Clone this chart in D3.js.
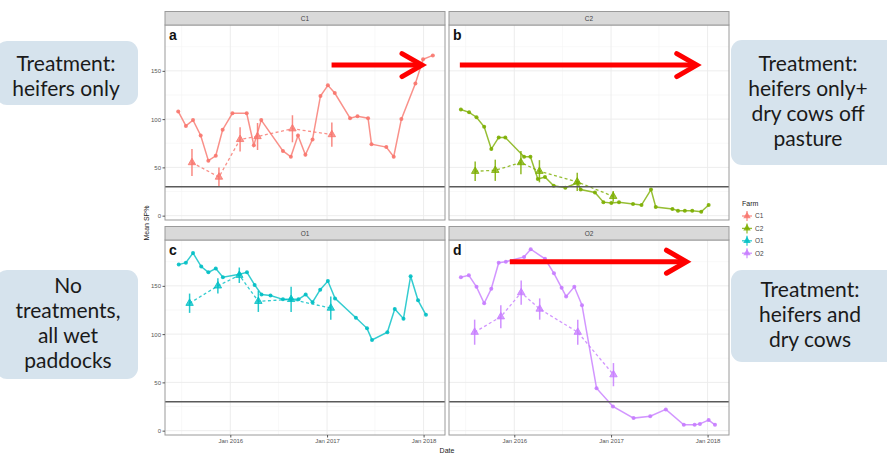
<!DOCTYPE html>
<html>
<head>
<meta charset="utf-8">
<script src="https://cdn.jsdelivr.net/npm/d3@7"></script>
<style>
  body { margin: 0; background: #fff; }
  svg { display: block; font-family: "Liberation Sans", Arial, sans-serif; }
</style>
</head>
<body>
<div id="chart"></div>
<script>
// farms / panels
const farms = ["C1", "C2", "O1", "O2"];
const panelLetters = ["a", "b", "c", "d"];
const farmColors = ["#F8766D", "#7CAE00", "#00BFC4", "#C77CFF"];

// monthly bulk samples (solid line)
const c1Dates = ["2015-06-18","2015-07-17","2015-08-13","2015-09-11","2015-10-10","2015-11-07","2015-12-03","2016-01-09","2016-03-03","2016-03-30","2016-04-27","2016-07-18","2016-08-17","2016-09-13","2016-10-11","2016-11-07","2016-12-07","2017-01-04","2017-01-30","2017-03-29","2017-04-26","2017-06-05","2017-06-18","2017-08-13","2017-09-10","2017-10-09","2017-12-01","2017-12-30","2018-02-05"];
const c1Sp = [108,93,99,83,57,62,89,106,106,73,99,67,61,83,63,79,124,135,127,101,103,101,74,71,61,100,137,162,166];

const c2Dates = ["2015-06-13","2015-07-14","2015-08-11","2015-09-09","2015-10-06","2015-11-03","2015-11-28","2016-02-07","2016-03-02","2016-03-30","2016-04-26","2016-05-29","2016-07-12","2016-08-28","2016-09-08","2016-11-01","2016-12-03","2017-01-02","2017-01-31","2017-03-25","2017-04-26","2017-06-01","2017-06-19","2017-08-21","2017-09-11","2017-10-07","2017-11-04","2017-12-08","2018-01-05"];
const c2Sp = [110,107,102,92,69,81,81,61,61,38,40,31,29,34,27,24,14,13,14,12,11,27,9,7,5,5,5,4,11];

const o1Dates = ["2015-06-20","2015-07-17","2015-08-13","2015-09-13","2015-10-10","2015-11-07","2015-12-04","2016-02-05","2016-03-04","2016-04-02","2016-04-28","2016-06-01","2016-07-18","2016-08-17","2016-09-15","2016-10-12","2016-11-07","2016-12-06","2017-01-04","2017-01-31","2017-04-20","2017-06-01","2017-06-20","2017-08-17","2017-09-14","2017-10-17","2017-11-13","2017-12-11","2018-01-10"];
const o1Sp = [172,174,184,170,164,168,159,162,164,151,141,140,136,136,136,141,133,146,155,137,117,106,94,102,126,116,160,135,120];

const o2Dates = ["2015-06-13","2015-07-13","2015-08-11","2015-09-09","2015-10-06","2015-11-03","2015-11-30","2016-02-07","2016-03-03","2016-04-26","2016-05-30","2016-06-28","2016-07-15","2016-08-15","2016-09-13","2016-11-07","2017-01-08","2017-03-27","2017-05-29","2017-07-27","2017-10-03","2017-11-13","2017-12-03","2018-01-05","2018-01-29"];
const o2Sp = [159,161,149,132,147,174,175,180,188,178,163,148,139,149,130,44,25,13,15,22,6,6,7,11,6];

// survey means (dashed line, triangles, error bars)
const c1SurveyDates = ["2015-08-09","2015-11-19","2016-02-07","2016-04-13","2016-08-23","2017-01-19"];
const c1SurveyMean = [55,40,79,82,90,84];
const c1SurveyErr = [14,10,12.5,14,14,12.5];

const c2SurveyDates = ["2015-08-06","2015-10-21","2016-01-26","2016-04-05","2016-08-26","2017-01-09"];
const c2SurveyMean = [46,47,55,46,35,20];
const c2SurveyErr = [10,11,12,11.5,9.5,5.5];

const o1SurveyDates = ["2015-07-31","2015-11-15","2016-02-04","2016-04-16","2016-08-18","2017-01-15"];
const o1SurveyMean = [132,150,161,134,136,127];
const o1SurveyErr = [10,8,8,11,13,12];

const o2SurveyDates = ["2015-08-04","2015-11-11","2016-01-27","2016-04-06","2016-08-28","2017-01-10"];
const o2SurveyMean = [102,118,143,126,102,58];
const o2SurveyErr = [13,12,12.5,11,13,12];

// axis ticks
const yTicks = [0, 50, 100, 150];
const yMinorTicks = [25, 75, 125, 175];
const xTicks = ["2016-01-01", "2017-01-01", "2018-01-01"];
const xMinorTicks = ["2015-07-01", "2016-07-01", "2017-07-01"];
const threshold = 30;

// treatment arrows (panel index, start, end, level)
const arrowPanels = [0, 1, 3];
const arrowStarts = ["2017-01-18", "2015-06-09", "2015-12-15"];
const arrowEnds = ["2018-01-14", "2017-12-10", "2017-11-01"];
const arrowLevels = [156, 156, 175];

// callout texts
const calloutLines = [
    ["Treatment:", "heifers only"],
    ["Treatment:", "heifers only+", "dry cows off", "pasture"],
    ["No", "treatments,", "all wet", "paddocks"],
    ["Treatment:", "heifers and", "dry cows"]
];

const parse = d3.timeParse("%Y-%m-%d");
const solidData = [
    c1Dates.map((d, i) => ({ date: parse(d), v: c1Sp[i] })),
    c2Dates.map((d, i) => ({ date: parse(d), v: c2Sp[i] })),
    o1Dates.map((d, i) => ({ date: parse(d), v: o1Sp[i] })),
    o2Dates.map((d, i) => ({ date: parse(d), v: o2Sp[i] }))
];
const surveyData = [
    c1SurveyDates.map((d, i) => ({ date: parse(d), v: c1SurveyMean[i], e: c1SurveyErr[i] })),
    c2SurveyDates.map((d, i) => ({ date: parse(d), v: c2SurveyMean[i], e: c2SurveyErr[i] })),
    o1SurveyDates.map((d, i) => ({ date: parse(d), v: o1SurveyMean[i], e: o1SurveyErr[i] })),
    o2SurveyDates.map((d, i) => ({ date: parse(d), v: o2SurveyMean[i], e: o2SurveyErr[i] }))
];

const width = 887, height = 455;
const panelW = 280, panelH = 195, stripH = 13.5;
const colX = [165, 449];
const rowY = [25, 240];

const svg = d3.select("#chart")
    .append("svg")
    .attr("width", width)
    .attr("height", height);

const xScale = d3.scaleTime()
    .domain([new Date(2015, 3, 29), new Date(2018, 2, 23)])
    .range([0, panelW]);

const yScale = d3.scaleLinear()
    .domain([-4.5, 197.5])
    .range([panelH, 0]);

const lineGen = d3.line()
    .x(d => xScale(d.date))
    .y(d => yScale(d.v));

const tri = d3.symbol().type(d3.symbolTriangle).size(24);

farms.forEach((farm, i) => {
    const col = i % 2, row = Math.floor(i / 2);
    const color = farmColors[i];
    const g = svg.append("g")
        .attr("transform", `translate(${colX[col]},${rowY[row]})`);

    g.append("rect")
        .attr("width", panelW)
        .attr("height", panelH)
        .attr("fill", "#fff");

    // grid
    g.selectAll(".ymin").data(yMinorTicks).enter().append("line")
        .attr("x1", 0).attr("x2", panelW)
        .attr("y1", d => yScale(d)).attr("y2", d => yScale(d))
        .attr("stroke", "#f4f4f4").attr("stroke-width", 0.6);
    g.selectAll(".xmin").data(xMinorTicks).enter().append("line")
        .attr("x1", d => xScale(parse(d))).attr("x2", d => xScale(parse(d)))
        .attr("y1", 0).attr("y2", panelH)
        .attr("stroke", "#f4f4f4").attr("stroke-width", 0.6);
    g.selectAll(".ymaj").data(yTicks).enter().append("line")
        .attr("x1", 0).attr("x2", panelW)
        .attr("y1", d => yScale(d)).attr("y2", d => yScale(d))
        .attr("stroke", "#ebebeb").attr("stroke-width", 0.9);
    g.selectAll(".xmaj").data(xTicks).enter().append("line")
        .attr("x1", d => xScale(parse(d))).attr("x2", d => xScale(parse(d)))
        .attr("y1", 0).attr("y2", panelH)
        .attr("stroke", "#ebebeb").attr("stroke-width", 0.9);

    // monthly SP% line
    g.append("path")
        .datum(solidData[i])
        .attr("d", lineGen)
        .attr("fill", "none")
        .attr("stroke", color)
        .attr("stroke-opacity", 0.8)
        .attr("stroke-width", 1.5);
    g.selectAll(".pt").data(solidData[i]).enter().append("circle")
        .attr("cx", d => xScale(d.date))
        .attr("cy", d => yScale(d.v))
        .attr("r", 2)
        .attr("fill", color)
        .attr("fill-opacity", 0.9);

    // survey means
    g.append("path")
        .datum(surveyData[i])
        .attr("d", lineGen)
        .attr("fill", "none")
        .attr("stroke", color)
        .attr("stroke-opacity", 0.8)
        .attr("stroke-width", 1.3)
        .attr("stroke-dasharray", "3,2.5");
    g.selectAll(".err").data(surveyData[i]).enter().append("line")
        .attr("x1", d => xScale(d.date)).attr("x2", d => xScale(d.date))
        .attr("y1", d => yScale(d.v - d.e)).attr("y2", d => yScale(d.v + d.e))
        .attr("stroke", color)
        .attr("stroke-opacity", 0.85)
        .attr("stroke-width", 1.5);
    g.selectAll(".tri").data(surveyData[i]).enter().append("path")
        .attr("d", tri)
        .attr("transform", d => `translate(${xScale(d.date)},${yScale(d.v)})`)
        .attr("fill", color)
        .attr("fill-opacity", 0.75)
        .attr("stroke", color)
        .attr("stroke-width", 0.8);

    // threshold line
    g.append("line")
        .attr("x1", 0).attr("x2", panelW)
        .attr("y1", yScale(threshold)).attr("y2", yScale(threshold))
        .attr("stroke", "#5a5a5a")
        .attr("stroke-width", 1.6);

    // border
    g.append("rect")
        .attr("width", panelW)
        .attr("height", panelH)
        .attr("fill", "none")
        .attr("stroke", "#9a9a9a")
        .attr("stroke-width", 1);

    // strip
    g.append("rect")
        .attr("y", -stripH)
        .attr("width", panelW)
        .attr("height", stripH)
        .attr("fill", "#d9d9d9")
        .attr("stroke", "#9a9a9a")
        .attr("stroke-width", 1);
    g.append("text")
        .attr("x", panelW / 2)
        .attr("y", -stripH / 2 + 2.3)
        .attr("text-anchor", "middle")
        .attr("font-size", "6.5px")
        .attr("fill", "#444")
        .text(farm);

    // panel letter
    g.append("text")
        .attr("x", 4)
        .attr("y", 15)
        .attr("font-size", "14px")
        .attr("font-weight", "bold")
        .attr("fill", "#111")
        .text(panelLetters[i]);

    // axes
    if (col === 0) {
        const ya = g.append("g")
            .call(d3.axisLeft(yScale).tickValues(yTicks).tickSize(2.5).tickPadding(1.5));
        ya.select(".domain").remove();
        ya.selectAll("line").attr("stroke", "#555");
        ya.selectAll("text").attr("font-size", "6px").attr("fill", "#555");
    }
    if (row === 1) {
        const xa = g.append("g")
            .attr("transform", `translate(0,${panelH})`)
            .call(d3.axisBottom(xScale).tickValues(xTicks.map(parse)).tickSize(2.5).tickPadding(1.5)
                .tickFormat(d3.timeFormat("%b %Y")));
        xa.select(".domain").remove();
        xa.selectAll("line").attr("stroke", "#555");
        xa.selectAll("text").attr("font-size", "6px").attr("fill", "#555");
    }
});

// axis titles
svg.append("text")
    .attr("transform", "translate(149,223) rotate(-90)")
    .attr("text-anchor", "middle")
    .attr("font-size", "7px")
    .attr("fill", "#222")
    .text("Mean SP%");
svg.append("text")
    .attr("x", 447)
    .attr("y", 453)
    .attr("text-anchor", "middle")
    .attr("font-size", "7px")
    .attr("fill", "#222")
    .text("Date");

// legend
const legend = svg.append("g").attr("transform", "translate(742,0)");
legend.append("text")
    .attr("x", 0).attr("y", 206)
    .attr("font-size", "7px")
    .attr("fill", "#222")
    .text("Farm");
farms.forEach((farm, i) => {
    const ly = 216 + i * 12.4;
    const k = legend.append("g").attr("transform", `translate(5,${ly})`);
    k.append("line").attr("x1", -5).attr("x2", 5)
        .attr("stroke", farmColors[i]).attr("stroke-width", 1.3).attr("stroke-opacity", 0.8);
    k.append("line").attr("y1", -5).attr("y2", 5)
        .attr("stroke", farmColors[i]).attr("stroke-width", 1.3).attr("stroke-opacity", 0.8);
    k.append("path").attr("d", tri).attr("fill", farmColors[i]).attr("fill-opacity", 0.85);
    legend.append("text")
        .attr("x", 13).attr("y", ly + 2.3)
        .attr("font-size", "6.5px")
        .attr("fill", "#444")
        .text(farm);
});

// red treatment arrows
arrowPanels.forEach((p, i) => {
    const ox = colX[p % 2], oy = rowY[Math.floor(p / 2)];
    const x0 = ox + xScale(parse(arrowStarts[i]));
    const x1 = ox + xScale(parse(arrowEnds[i])) - 5; // miter join pushes the tip out
    const ay = oy + yScale(arrowLevels[i]);
    svg.append("line")
        .attr("x1", x0).attr("x2", x1 - 3)
        .attr("y1", ay).attr("y2", ay)
        .attr("stroke", "#f00")
        .attr("stroke-width", 5);
    svg.append("path")
        .attr("d", `M${x1 - 20},${ay - 11.5}L${x1},${ay}L${x1 - 20},${ay + 11.5}`)
        .attr("fill", "none")
        .attr("stroke", "#f00")
        .attr("stroke-width", 5)
        .attr("stroke-linecap", "round")
        .attr("stroke-linejoin", "miter");
});

// callout boxes
const boxX = [-4, 731, -4, 731];
const boxY = [41, 40, 270, 270];
const boxW = [142, 170, 142, 170];
const boxH = [64, 125, 109, 92];
const textX = [66, 808, 68, 810];
const firstBase = [70.7, 70.7, 293, 297];
calloutLines.forEach((lines, i) => {
    svg.append("rect")
        .attr("x", boxX[i]).attr("y", boxY[i])
        .attr("width", boxW[i]).attr("height", boxH[i])
        .attr("rx", 11).attr("ry", 11)
        .attr("fill", "#d6e3ed");
    svg.append("g").selectAll("text").data(lines).enter().append("text")
        .attr("x", textX[i])
        .attr("y", (d, j) => firstBase[i] + j * 25)
        .attr("text-anchor", "middle")
        .attr("font-family", "Lato, 'Open Sans', sans-serif")
        .attr("font-size", "21px")
        .attr("fill", "#1a1a1a")
        .text(d => d);
});
</script>
</body>
</html>
